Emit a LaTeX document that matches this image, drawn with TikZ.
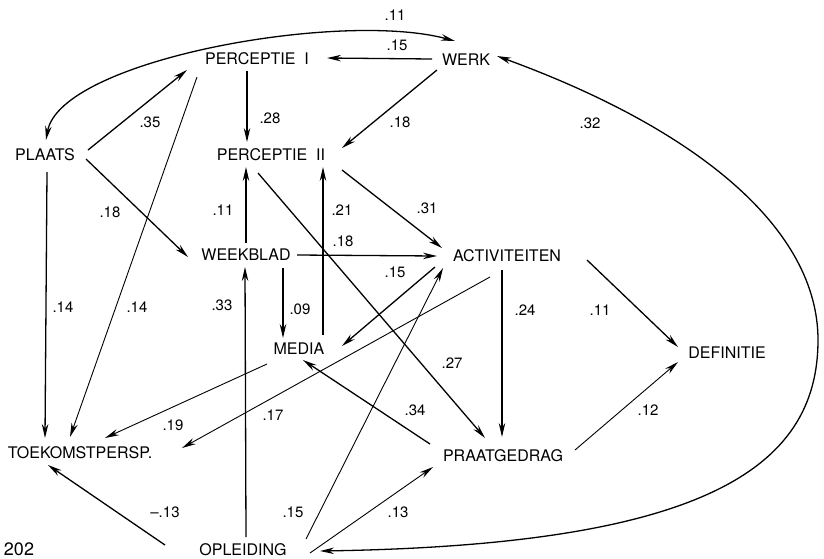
\documentclass[tikz,border=0pt]{standalone}
\usepackage{fontspec}
\setmainfont{TeX Gyre Heros}
\usetikzlibrary{arrows.meta}

\begin{document}
\begin{tikzpicture}[x=1pt, y=-1pt, line width=1.3pt,
	>={Stealth[length=14pt,width=6.5pt]},
	var/.style={inner sep=0pt, font=\fontsize{16}{16}\selectfont},
	gew/.style={inner sep=0pt, font=\fontsize{15}{15}\selectfont},
	dun/.style={line width=0.9pt}]
\useasboundingbox (0,0) rectangle (824,558);
% Variabelen:
	\node [var] (werk) at (466,60) {WERK};
	\node [var] (pI) at (257,59) {PERCEPTIE\ \ I};
	\node [var] (plaats) at (45,155) {PLAATS};
	\node [var] (pII) at (271,155) {PERCEPTIE\ \ II};
	\node [var] (wb) at (246,255) {WEEKBLAD};
	\node [var] (act) at (507,256) {ACTIVITEITEN};
	\node [var] (media) at (299,349) {MEDIA};
	\node [var] (def) at (727,353) {DEFINITIE};
	\node [var] (toek) at (80,453) {TOEKOMSTPERSP.};
	\node [var] (praat) at (503,456) {PRAATGEDRAG};
	\node [var] (opl) at (243,550) {OPLEIDING};
	\node [inner sep=0pt, font=\fontsize{18}{18}\selectfont] (blz) at (19,549) {202};
	\coordinate (bocht) at (818,340);
% Gewichten:
	\node [gew] (g1) at (395,15) {.11};
	\node [gew] (g2) at (397,45) {.15};
	\node [gew] (g3) at (150,122) {.35};
	\node [gew] (g4) at (270,118) {.28};
	\node [gew] (g5) at (400,122) {.18};
	\node [gew] (g6) at (590,123) {.32};
	\node [gew] (g7) at (110,212) {.18};
	\node [gew] (g8) at (223,210) {.11};
	\node [gew] (g9) at (342,210) {.21};
	\node [gew] (g10) at (427,208) {.31};
	\node [gew] (g11) at (343,241) {.18};
	\node [gew] (g12) at (395,272) {.15};
	\node [gew] (g13) at (63,307) {.14};
	\node [gew] (g14) at (137,307) {.14};
	\node [gew] (g15) at (222,305) {.33};
	\node [gew] (g16) at (300,309) {.09};
	\node [gew] (g17) at (525,310) {.24};
	\node [gew] (g18) at (600,310) {.11};
	\node [gew] (g19) at (452,363) {.27};
	\node [gew] (g20) at (415,410) {.34};
	\node [gew] (g21) at (648,410) {.12};
	\node [gew] (g22) at (273,415) {.17};
	\node [gew] (g23) at (173,425) {.19};
	\node [gew] (g24) at (165,512) {\textendash.13};
	\node [gew] (g25) at (293,512) {.15};
	\node [gew] (g26) at (398,512) {.13};
% Pijlen:
	% bogen
	\draw [<->] ([shift={(1,-15)}]plaats.center) .. controls +(14,-80) and +(-115,-31) .. ([shift={(-11,-19)}]werk.center);
	\draw [<->] ([shift={(31,-4)}]werk.center) .. controls +(203,74) and +(0,-110) .. (bocht)
		.. controls +(0,130) and +(380,-6) .. ([shift={(77,1)}]opl.center);
	% van WERK en PLAATS
	\draw [->] ([shift={(-34,-1)}]werk.center) -- ([shift={(70,-1)}]pI.center);
	\draw [->] ([shift={(-29,10)}]werk.center) -- ([shift={(71,-7)}]pII.center);
	\draw [->] ([shift={(43,-5)}]plaats.center) -- ([shift={(-70,11)}]pI.center);
	\draw [->] ([shift={(41,4)}]plaats.center) -- ([shift={(-58,2)}]wb.center);
	\draw [->] ([shift={(2,17)}]plaats.center) -- ([shift={(-35,-15)}]toek.center);
	% van PERCEPTIE I en II
	\draw [->, dun] ([shift={(-60,18)}]pI.center) -- ([shift={(-10,-16)}]toek.center);
	\draw [->] ([shift={(-10,12)}]pI.center) -- ([shift={(-24,-13)}]pII.center);
	\draw [->] ([shift={(71,15)}]pII.center) -- ([shift={(-65,-8)}]act.center);
	\draw [->] ([shift={(-13,18)}]pII.center) -- ([shift={(-18,-18)}]praat.center);
	% van WEEKBLAD en MEDIA
	\draw [->] ([shift={(0,-12)}]wb.center) -- ([shift={(-25,12)}]pII.center);
	\draw [->] ([shift={(51,0)}]wb.center) -- ([shift={(-70,0)}]act.center);
	\draw [->] ([shift={(37,13)}]wb.center) -- ([shift={(-16,-11)}]media.center);
	\draw [->] ([shift={(24,-14)}]media.center) -- ([shift={(52,12)}]pII.center);
	\draw [->, dun] ([shift={(-32,15)}]media.center) -- ([shift={(25,-15)}]toek.center);
	% van ACTIVITEITEN en PRAATGEDRAG
	\draw [->] ([shift={(-72,11)}]act.center) -- ([shift={(43,-3)}]media.center);
	\draw [->, dun] ([shift={(-17,21)}]act.center) -- ([shift={(102,-5)}]toek.center);
	\draw [->] ([shift={(-5,14)}]act.center) -- ([shift={(-1,-19)}]praat.center);
	\draw [->] ([shift={(80,4)}]act.center) -- ([shift={(-49,-6)}]def.center);
	\draw [->] ([shift={(-73,-12)}]praat.center) -- ([shift={(4,11)}]media.center);
	\draw [->, dun] ([shift={(72,-6)}]praat.center) -- ([shift={(-49,9)}]def.center);
	% van OPLEIDING
	\draw [->, dun] ([shift={(63,-11)}]opl.center) -- ([shift={(-64,12)}]act.center);
	\draw [->, dun] ([shift={(67,3)}]opl.center) -- ([shift={(-70,11)}]praat.center);
	\draw [->] ([shift={(3,-13)}]opl.center) -- ([shift={(-1,12)}]wb.center);
	\draw [->] ([shift={(-78,-5)}]opl.center) -- ([shift={(-32,12)}]toek.center);
\end{tikzpicture}
\end{document}
